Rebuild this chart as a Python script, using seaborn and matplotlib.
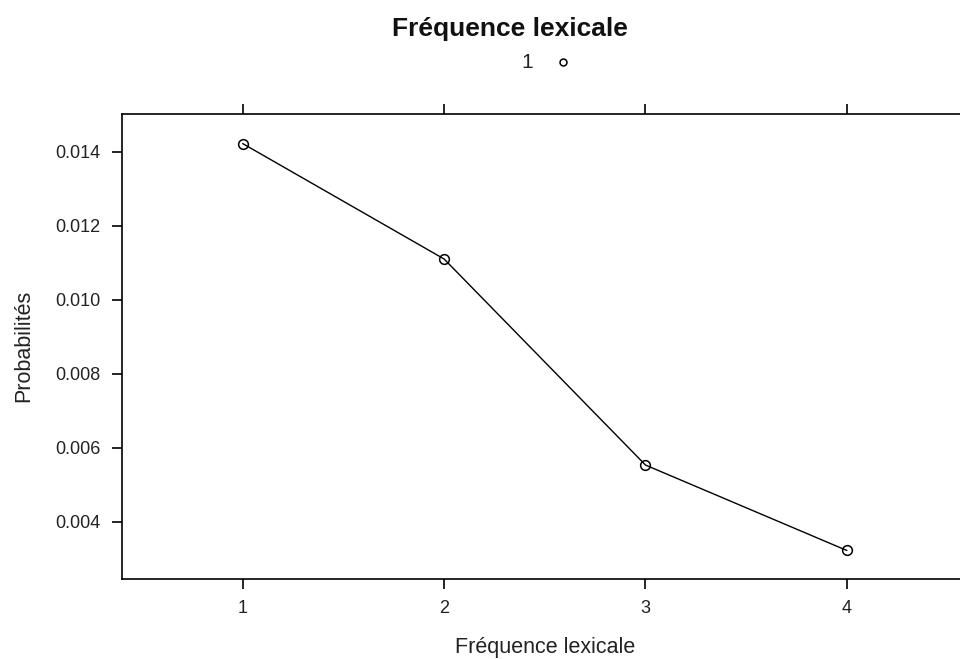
import numpy as np
import pandas as pd
import seaborn as sns
import matplotlib.pyplot as plt

# values
freq = [1, 2, 3, 4]
probs = [0.01422, 0.01110, 0.00553, 0.00322]
ytick_vals = [0.004, 0.006, 0.008, 0.010, 0.012, 0.014]

df = pd.DataFrame({'freq': freq, 'prob': probs})

sns.set_style('white')
plt.rcParams['font.family'] = ['Liberation Sans', 'DejaVu Sans']

fig = plt.figure(figsize=(9.6, 6.59), dpi=100)
ax = fig.add_axes([0.127, 0.122, 0.881, 0.705])

sns.lineplot(data=df, x='freq', y='prob', ax=ax, color='black', linewidth=1.0,
             marker='o', markersize=7, markerfacecolor='none',
             markeredgecolor='black', markeredgewidth=1.1)

ax.set_xlim(0.4, 4.6)
ax.set_ylim(0.00246, 0.01502)
ax.set_xticks(freq)
ax.set_xticklabels([str(f) for f in freq])
ax.set_yticks(ytick_vals)
ax.set_yticklabels(['%.3f' % v for v in ytick_vals])

for s in ax.spines.values():
    s.set_color('black')
    s.set_linewidth(1.2)

ax.tick_params(axis='x', which='both', direction='out', length=7.5, width=1.2,
               color='black', labelsize=13, pad=8, top=True, bottom=True,
               labeltop=False, labelcolor='#222222')
ax.tick_params(axis='y', which='both', direction='out', length=7.5, width=1.2,
               color='black', labelsize=13, pad=8, left=True, right=False,
               labelcolor='#222222')

ax.set_xlabel('Fréquence lexicale', fontsize=15.5, color='#222222')
ax.set_ylabel('Probabilités', fontsize=15.5, color='#222222')
ax.xaxis.set_label_coords(0.5, -0.125)
ax.yaxis.set_label_coords(-0.104, 0.5)

fig.text(510 / 960, 1 - 29 / 659, 'Fréquence lexicale', ha='center', va='center',
         fontsize=19, fontweight='bold', color='#111111')
fig.text(527 / 960, 1 - 62 / 659, '1', ha='center', va='center', fontsize=15,
         color='#222222')
ax.plot([563 / 960], [1 - 62 / 659], transform=fig.transFigure, marker='o',
        markersize=5, markerfacecolor='none', markeredgecolor='black',
        markeredgewidth=1.1, clip_on=False)

fig.savefig('out.png', dpi=100)
